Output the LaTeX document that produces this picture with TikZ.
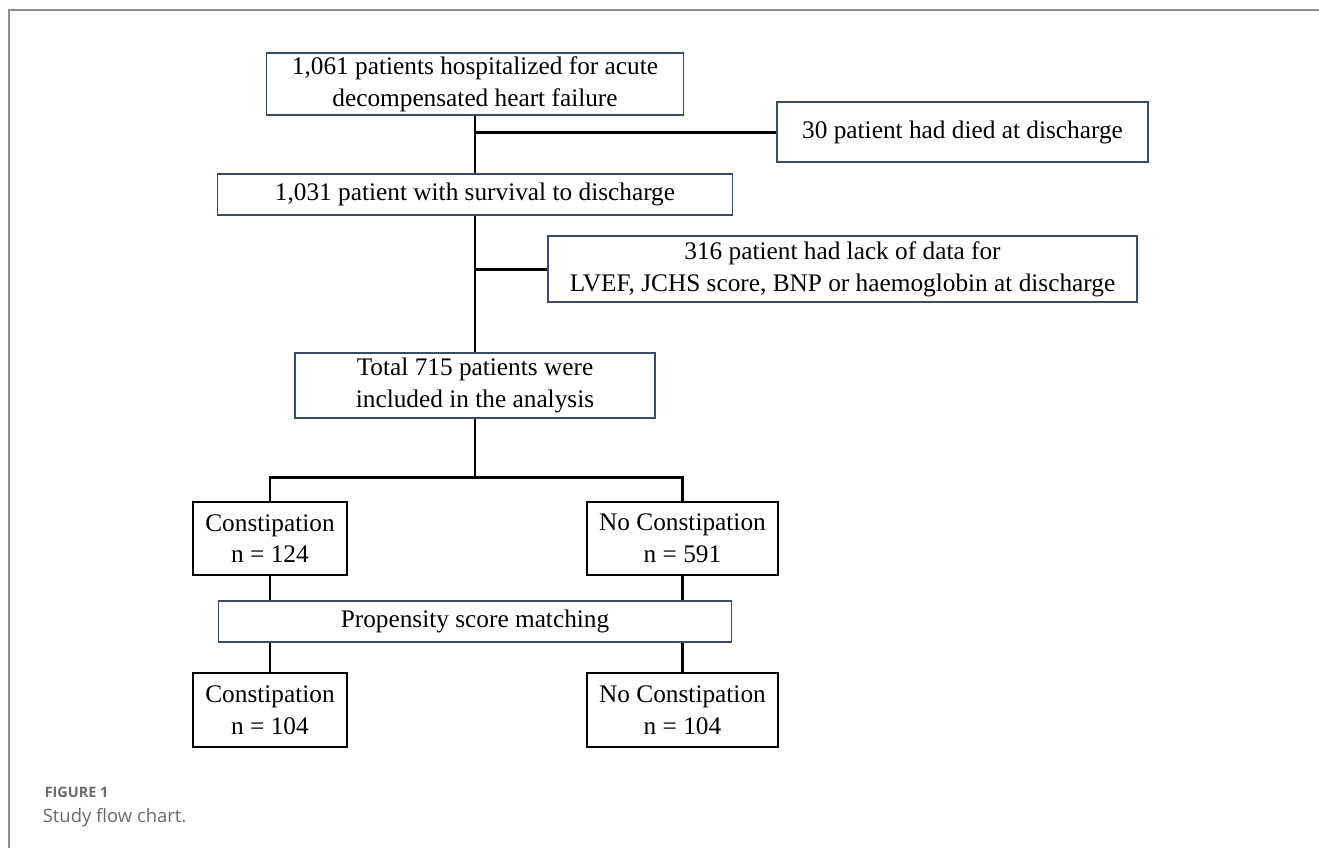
\documentclass[tikz,border=0pt]{standalone}
\usepackage{fontspec}
\setmainfont{Liberation Serif}
\newfontfamily\capfont{Open Sans}
\usetikzlibrary{positioning, calc}
\definecolor{cnavy}{HTML}{3A4A6B}
\definecolor{cframe}{HTML}{8E8E8E}
\definecolor{ccap}{HTML}{6A6A6A}
\tikzset{
  every picture/.style={line width=0.9pt},
  box/.style={draw=cnavy, fill=white, align=center, inner sep=2pt, font=\fontsize{14.4}{18}\selectfont},
  grp/.style={box, draw=black, line width=1.1pt, minimum width=3.08cm, minimum height=1.46cm},
  link/.style={draw=black, line width=1.7pt},
  captxt/.style={font=\capfont, text=ccap, anchor=base west, inner sep=0pt},
}

\begin{document}
\begin{tikzpicture}
  \useasboundingbox (0,0) rectangle (26.38,-16.96);
  % ---- frame ----
  \draw[cframe, line width=1.1pt] (0.18,-16.96) -- (0.18,-0.2) -- (26.38,-0.2);
  % ---- main column ----
  \node[box, minimum width=8.34cm, minimum height=1.16cm] (admit) at (9.5,-1.68)
    {1,061 patients hospitalized for acute\\decompensated heart failure};
  \node[box, minimum width=7.42cm, minimum height=1.2cm] (died) at (19.25,-2.64)
    {30 patient had died at discharge};
  \node[box, minimum width=10.3cm, minimum height=0.82cm] (surv) at (9.5,-3.89)
    {1,031 patient with survival to discharge};
  \node[box, minimum width=11.78cm, minimum height=1.32cm] (lack) at (16.85,-5.38)
    {316 patient had lack of data for\\LVEF, JCHS score, BNP or haemoglobin at discharge};
  \node[box, minimum width=7.2cm, minimum height=1.3cm] (total) at (9.5,-7.71)
    {Total 715 patients were\\included in the analysis};
  \coordinate (split) at (9.5,-9.54);
  % ---- groups ----
  \node[grp] (cons1) at (5.4,-10.77) {Constipation\\n = 124};
  \node[grp, minimum width=3.82cm] (nocons1) at (13.65,-10.77) {No Constipation\\n = 591};
  \node[box, minimum width=10.26cm, minimum height=0.82cm] (psm) at (9.5,-12.43)
    {Propensity score matching};
  \node[grp, minimum height=1.48cm] (cons2) at (5.4,-14.2) {Constipation\\n = 104};
  \node[grp, minimum width=3.82cm, minimum height=1.48cm] (nocons2) at (13.65,-14.2) {No Constipation\\n = 104};
  % ---- connectors ----
  \draw[link] (admit.south) -- (surv.north);
  \draw[link] (died.west) -- (died.west -| admit.south);
  \draw[link] (surv.south) -- (total.north);
  \draw[link] (lack.west) -- (lack.west -| surv.south);
  \draw[link] (total.south) -- (split);
  \draw[link] (cons1.north) |- (split) -| (nocons1.north);
  \draw[link] (cons1.south) -- (cons1.south |- psm.north);
  \draw[link] (nocons1.south) -- (nocons1.south |- psm.north);
  \draw[link] (cons2.north |- psm.south) -- (cons2.north);
  \draw[link] (nocons2.north |- psm.south) -- (nocons2.north);
  % ---- caption ----
  \node[captxt, font=\capfont\bfseries\fontsize{8.2}{10}\selectfont] (fig) at (0.88,-15.94) {FIGURE 1};
  \node[captxt, font=\capfont\fontsize{10.5}{12}\selectfont] (cap) at (0.84,-16.44) {Study flow chart.};
\end{tikzpicture}
\end{document}
